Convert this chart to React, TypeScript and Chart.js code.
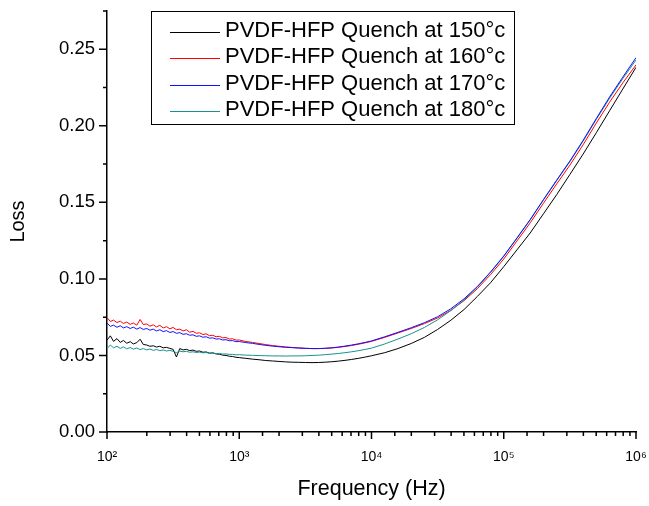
import React, { useEffect, useRef } from 'react';
import { Chart, registerables } from 'chart.js';

Chart.register(...registerables);

// Frequency sweep (Hz)
const frequencies = [
  100, 106, 112, 119, 126, 133, 141, 150, 158, 168,
  178, 188, 200, 211, 224, 237, 251, 266, 282, 299,
  316, 335, 355, 376, 398, 422, 447, 473, 501, 531,
  562, 596, 631, 668, 708, 750, 794, 841, 891, 944,
  1000,
  1122, 1259, 1413, 1585, 1778, 1995, 2239, 2512, 2818, 3162,
  3548, 3981, 4467, 5012, 5623, 6310, 7079, 7943, 8913, 10000,
  12589, 15849, 19953, 25119, 31623, 39811, 50119, 63096, 79433, 100000,
  125893, 158489, 199526, 251189, 316228, 398107, 501187, 630957, 794328, 1000000,
];

const loss150 = [
  0.0600, 0.0628, 0.0592, 0.0610, 0.0585, 0.0598, 0.0580, 0.0590, 0.0575, 0.0584,
  0.0606, 0.0572, 0.0568, 0.0560, 0.0563, 0.0555, 0.0560, 0.0550, 0.0553, 0.0546,
  0.0540, 0.0490, 0.0545, 0.0536, 0.0540, 0.0532, 0.0535, 0.0527, 0.0529, 0.0521,
  0.0523, 0.0515, 0.0517, 0.0510, 0.0508, 0.0502, 0.0500, 0.0495, 0.0493, 0.0488,
  0.0486,
  0.0481, 0.0476, 0.0472, 0.0467, 0.0464, 0.0461, 0.0458, 0.0456, 0.0455, 0.0454,
  0.0453, 0.0454, 0.0456, 0.0459, 0.0463, 0.0468, 0.0474, 0.0481, 0.0489, 0.0498,
  0.0518, 0.0545, 0.0578, 0.0618, 0.0670, 0.0730, 0.0800, 0.0885, 0.0975, 0.1080,
  0.1190, 0.1300, 0.1425, 0.1550, 0.1682, 0.1815, 0.1955, 0.2098, 0.2240, 0.2382,
];

const loss160 = [
  0.0748, 0.0722, 0.0731, 0.0715, 0.0724, 0.0709, 0.0718, 0.0703, 0.0712, 0.0698,
  0.0735, 0.0702, 0.0706, 0.0691, 0.0700, 0.0686, 0.0697, 0.0680, 0.0688, 0.0674,
  0.0683, 0.0668, 0.0672, 0.0660, 0.0668, 0.0652, 0.0657, 0.0645, 0.0648, 0.0637,
  0.0641, 0.0629, 0.0632, 0.0622, 0.0625, 0.0615, 0.0617, 0.0607, 0.0609, 0.0600,
  0.0601,
  0.0591, 0.0585, 0.0578, 0.0571, 0.0565, 0.0560, 0.0556, 0.0552, 0.0550, 0.0547,
  0.0545, 0.0545, 0.0546, 0.0549, 0.0553, 0.0559, 0.0565, 0.0573, 0.0582, 0.0592,
  0.0618, 0.0647, 0.0676, 0.0708, 0.0745, 0.0795, 0.0858, 0.0936, 0.1028, 0.1130,
  0.1248, 0.1366, 0.1494, 0.1620, 0.1743, 0.1876, 0.2018, 0.2154, 0.2280, 0.2398,
];

const loss170 = [
  0.0712, 0.0690, 0.0698, 0.0684, 0.0694, 0.0680, 0.0688, 0.0676, 0.0685, 0.0672,
  0.0682, 0.0670, 0.0676, 0.0665, 0.0672, 0.0660, 0.0668, 0.0656, 0.0662, 0.0650,
  0.0656, 0.0645, 0.0649, 0.0638, 0.0642, 0.0632, 0.0635, 0.0625, 0.0628, 0.0619,
  0.0622, 0.0613, 0.0615, 0.0607, 0.0609, 0.0601, 0.0603, 0.0596, 0.0597, 0.0590,
  0.0591,
  0.0584, 0.0579, 0.0572, 0.0566, 0.0561, 0.0557, 0.0553, 0.0551, 0.0548, 0.0546,
  0.0545, 0.0545, 0.0547, 0.0550, 0.0555, 0.0561, 0.0568, 0.0576, 0.0585, 0.0595,
  0.0622, 0.0651, 0.0681, 0.0714, 0.0753, 0.0805, 0.0870, 0.0950, 0.1045, 0.1150,
  0.1268, 0.1388, 0.1518, 0.1645, 0.1770, 0.1905, 0.2048, 0.2188, 0.2318, 0.2445,
];

const loss180 = [
  0.0545, 0.0568, 0.0550, 0.0560, 0.0546, 0.0556, 0.0543, 0.0552, 0.0541, 0.0549,
  0.0538, 0.0545, 0.0536, 0.0542, 0.0533, 0.0539, 0.0531, 0.0536, 0.0529, 0.0533,
  0.0527, 0.0518, 0.0528, 0.0524, 0.0527, 0.0521, 0.0524, 0.0519, 0.0522, 0.0517,
  0.0519, 0.0514, 0.0516, 0.0512, 0.0513, 0.0509, 0.0510, 0.0507, 0.0507, 0.0504,
  0.0505,
  0.0502, 0.0501, 0.0499, 0.0498, 0.0497, 0.0497, 0.0496, 0.0497, 0.0497, 0.0498,
  0.0500, 0.0502, 0.0505, 0.0509, 0.0513, 0.0518, 0.0524, 0.0531, 0.0539, 0.0548,
  0.0575, 0.0607, 0.0642, 0.0683, 0.0733, 0.0793, 0.0863, 0.0946, 0.1042, 0.1147,
  0.1265, 0.1385, 0.1515, 0.1642, 0.1766, 0.1900, 0.2042, 0.2180, 0.2308, 0.2430,
];

const seriesLabels = [
  'PVDF-HFP Quench at 150°c',
  'PVDF-HFP Quench at 160°c',
  'PVDF-HFP Quench at 170°c',
  'PVDF-HFP Quench at 180°c',
];
const seriesValues = [loss150, loss160, loss170, loss180];
const seriesColors = ['#000000', '#ff0000', '#1010ff', '#1a9090'];
const drawOrder = [3, 2, 0, 1];

const xTickLabels = ['10²', '10³', '10⁴', '10⁵', '10⁶'];
const yTickLabels = ['0.00', '0.05', '0.10', '0.15', '0.20', '0.25'];

const FONT = "'Liberation Sans', Arial, Helvetica, sans-serif";

const tickMarksPlugin = {
  id: 'tickMarks',
  afterDraw(chart: any) {
    const { ctx, chartArea } = chart;
    const xs = chart.scales.x;
    const ys = chart.scales.y;
    ctx.save();
    ctx.strokeStyle = '#000';
    ctx.lineWidth = 1.5;
    ctx.beginPath();
    xs.ticks.forEach((t: any) => {
      const e = Math.log10(t.value);
      const major = Math.abs(e - Math.round(e)) < 1e-6;
      const px = xs.getPixelForValue(t.value);
      ctx.moveTo(px, chartArea.bottom);
      ctx.lineTo(px, chartArea.bottom + (major ? 7 : 4));
    });
    ys.ticks.forEach((t: any) => {
      const q = t.value / 0.05;
      const major = Math.abs(q - Math.round(q)) < 1e-6;
      const py = ys.getPixelForValue(t.value);
      ctx.moveTo(chartArea.left, py);
      ctx.lineTo(chartArea.left - (major ? 8 : 4), py);
    });
    ctx.stroke();
    ctx.restore();
  },
};

const legendBoxPlugin = {
  id: 'legendBox',
  afterDraw(chart: any) {
    const { ctx } = chart;
    const left = 151.5, top = 11.5, right = 514.5, bottom = 124.5;
    ctx.save();
    ctx.fillStyle = '#fff';
    ctx.fillRect(left, top, right - left, bottom - top);
    ctx.strokeStyle = '#000';
    ctx.lineWidth = 1;
    ctx.strokeRect(left, top, right - left, bottom - top);
    ctx.font = `22px ${FONT}`;
    ctx.textBaseline = 'middle';
    ctx.textAlign = 'left';
    chart.data.datasets.forEach((ds: any, i: number) => {
      const y = 32 + i * 26.3;
      ctx.strokeStyle = ds.borderColor;
      ctx.lineWidth = 1;
      ctx.beginPath();
      ctx.moveTo(170, Math.round(y) + 0.5);
      ctx.lineTo(220, Math.round(y) + 0.5);
      ctx.stroke();
      ctx.fillStyle = '#000';
      ctx.fillText(ds.label, 225, y - 1);
    });
    ctx.restore();
  },
};

export default function App() {
  const ref = useRef<HTMLCanvasElement>(null);
  useEffect(() => {
    const canvas = ref.current;
    if (!canvas) return;
    Chart.defaults.font.family = FONT;
    Chart.defaults.color = '#000';
    const chart = new Chart(canvas, {
      type: 'line',
      data: {
        datasets: seriesLabels.map((label, i) => ({
          label,
          data: frequencies.map((f, j) => ({ x: f, y: seriesValues[i][j] })),
          borderColor: seriesColors[i],
          backgroundColor: seriesColors[i],
          borderWidth: 1,
          pointRadius: 0,
          tension: 0,
          fill: false,
          order: drawOrder[i],
        })),
      },
      options: {
        animation: false,
        responsive: false,
        maintainAspectRatio: false,
        layout: { padding: { left: 0, right: 13, top: 11, bottom: 0 } },
        plugins: {
          legend: { display: false },
          tooltip: { enabled: false },
        },
        scales: {
          x: {
            type: 'logarithmic',
            min: 100,
            max: 1000000,
            grid: { display: false, drawTicks: false },
            border: { display: true, color: '#000', width: 1.5 },
            ticks: {
              autoSkip: false,
              maxRotation: 0,
              minRotation: 0,
              padding: 17,
              color: '#000',
              font: { size: 14, family: FONT },
              callback: (value: any) => {
                const e = Math.log10(Number(value));
                if (Math.abs(e - Math.round(e)) < 1e-6) {
                  return xTickLabels[Math.round(e) - 2] ?? '';
                }
                return '';
              },
            },
            title: {
              display: true,
              text: 'Frequency (Hz)',
              color: '#000',
              font: { size: 21.5, family: FONT },
              padding: { top: 0, bottom: 4 },
            },
            afterFit: (s: any) => {
              s.height = 74;
              s.paddingLeft = 0;
              s.paddingRight = 0;
            },
          },
          y: {
            type: 'linear',
            min: 0,
            max: 0.275,
            grid: { display: false, drawTicks: false },
            border: { display: true, color: '#000', width: 1.5 },
            ticks: {
              stepSize: 0.025,
              autoSkip: false,
              padding: 12,
              color: '#000',
              font: { size: 18.5, family: FONT },
              callback: (value: any) => {
                const q = Number(value) / 0.05;
                if (Math.abs(q - Math.round(q)) < 1e-6) {
                  return yTickLabels[Math.round(q)] ?? '';
                }
                return '';
              },
            },
            title: {
              display: true,
              text: 'Loss',
              color: '#000',
              font: { size: 20, family: FONT },
              padding: { top: 6, bottom: 0 },
            },
            afterFit: (s: any) => {
              s.width = 107;
              s.paddingTop = 0;
              s.paddingBottom = 0;
            },
          },
        },
      },
      plugins: [tickMarksPlugin, legendBoxPlugin],
    });
    return () => chart.destroy();
  }, []);

  return (
    <div style={{ position: 'absolute', left: 0, top: 0, width: 649, height: 506, background: '#fff' }}>
      <canvas ref={ref} width={649} height={506} style={{ display: 'block', width: 649, height: 506 }} />
    </div>
  );
}
